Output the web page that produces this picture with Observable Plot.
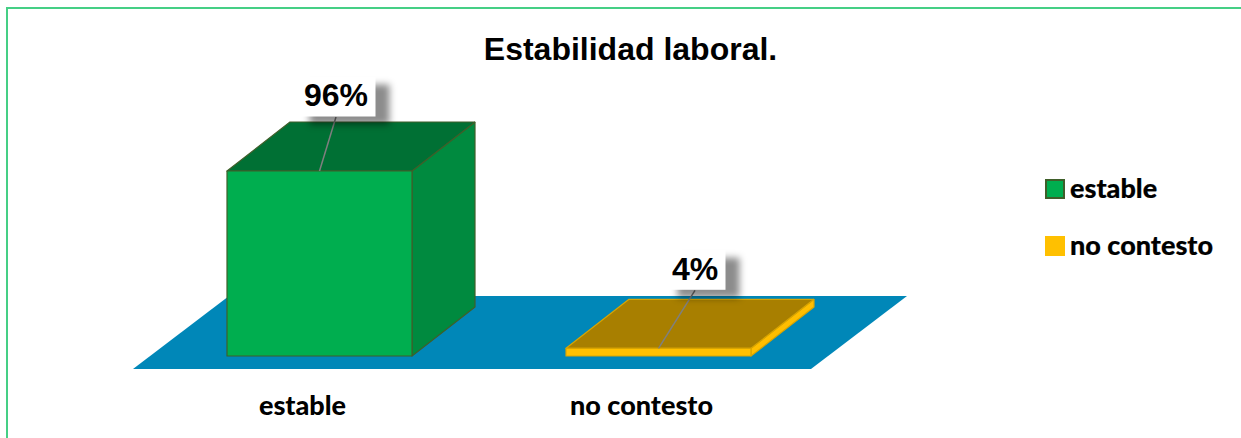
<!DOCTYPE html>
<html><head><meta charset="utf-8">
<script src="https://cdn.jsdelivr.net/npm/d3@7"></script>
<script src="https://cdn.jsdelivr.net/npm/@observablehq/plot@0.6"></script>
<style>
html,body{margin:0;padding:0;background:#fff}
#chart{position:relative;width:1241px;height:438px;overflow:hidden}
#border{position:absolute;left:6px;top:7px;width:1240px;height:440px;border:2px solid #45cf85;box-sizing:border-box}
#chart svg{position:absolute;left:0;top:0}
.leg{position:absolute;left:1045px;font:900 27px Lato,sans-serif;color:#000;display:flex;align-items:center;line-height:20px}
.leg span{position:relative;top:-1px;-webkit-text-stroke:0.2px #000}
.leg i{display:block;width:20px;height:20px;box-sizing:border-box;margin-right:5px}
</style></head><body>
<div id="chart"><div id="border"></div></div>
<script>
const categories = ["estable", "no contesto"];
const values = [96, 4];
const labels = ["96%", "4%"];
const fronts = ["#00AE4F", "#FFC000"];
const tops = ["#007034", "#A87F00"];
const sides = ["#008A3F", "#FFBE00"];
const strokes = ["#3F5F2A", "#D9A500"];
const legendStrokes = ["#3F5F2A", "#FFC000"];
const chartTitle = "Estabilidad laboral.";

// geometry
const pxX = 339, pxY = 1.927;        // pixels per category, per percent
const barW = 185 / pxX, depthX = 63 / pxX, depthY = 49 / pxY;
const u = (p) => p / pxX, v = (p) => p / pxY;
const mids = categories.map((_, i) => i + 0.5);
const base = 356;

function poly(key, pts, fill, stroke, sw = 1.2) {
  return pts.concat([pts[0]]).map(([x, y]) => ({key, x, y, fill, stroke, sw}));
}
const floor = poly("floor", [
  [u(-17), v(-13)], [u(661), v(-13)], [u(757), v(60)], [u(79), v(60)]
], "#0087B8", "none", 0);

const faces = [];
categories.forEach((c, i) => {
  const l = mids[i] - barW / 2, r = mids[i] + barW / 2, t = values[i];
  faces.push(...poly(c + "-side", [[r, 0], [r + depthX, depthY], [r + depthX, t + depthY], [r, t]], sides[i], strokes[i]));
  faces.push(...poly(c + "-top", [[l, t], [r, t], [r + depthX, t + depthY], [l + depthX, t + depthY]], tops[i], strokes[i]));
  faces.push(...poly(c + "-front", [[l, 0], [r, 0], [r, t], [l, t]], fronts[i], strokes[i]));
});

// data labels: box centre offsets from the top-front centre of each bar
const boxes = categories.map((c, i) => {
  const off = [[16.5, 74], [36.5, 78]][i], size = [[80, 40], [62, 40]][i];
  const x = mids[i] + u(off[0]), y = values[i] + v(off[1]);
  return {c, label: labels[i], x0: mids[i], y0: values[i], x, y,
    x1: x - u(size[0] / 2), x2: x + u(size[0] / 2),
    y1: y - v(size[1] / 2), y2: y + v(size[1] / 2),
    yl: y - v(size[1] / 2)};
});

const polyMark = (data) => Plot.line(data, {
  x: "x", y: "y", z: "key", fill: "fill", stroke: "stroke",
  strokeWidth: "sw", strokeLinejoin: "miter", curve: "linear"
});

const plot = Plot.plot({
  width: 1241, height: 438,
  marginLeft: 149.5, marginRight: 413.5, marginTop: base - 100 * pxY - 0.5, marginBottom: 438 - base + 0.5,
  x: {domain: [0, 2], axis: null},
  y: {domain: [0, 100], axis: null},
  style: {background: "transparent", overflow: "visible"},
  marks: [
    polyMark(floor),
    polyMark(faces),
    Plot.link(boxes, {x1: "x0", y1: "y0", x2: "x", y2: "yl", stroke: "#7f7f7f", strokeWidth: 1.5}),
    Plot.rect(boxes, {x1: "x1", x2: "x2", y1: "y1", y2: "y2", fill: "#000", fillOpacity: 0.45,
      dx: 14, dy: 8, imageFilter: "blur(3.5px)"}),
    Plot.rect(boxes, {x1: "x1", x2: "x2", y1: "y1", y2: "y2", fill: "#fff"}),
    Plot.text(boxes, {x: "x", y: "y", text: "label", dy: -1, fontSize: 32, fontWeight: 700,
      fontFamily: "Liberation Sans, Arial", fill: "#000"}),
    Plot.text(categories, {x: (d, i) => mids[i], y: () => 0, text: (d) => d, dx: -17, dy: 50,
      fontSize: 27, fontWeight: 900, fontFamily: "Lato, sans-serif", fill: "#000"}),
    Plot.text([chartTitle], {x: () => 1, y: () => 100, text: (d) => d, dx: 141.5, dy: -114,
      fontSize: 32, fontWeight: 700, fontFamily: "Liberation Sans, Arial", fill: "#000"})
  ]
});
const chart = document.getElementById("chart");
chart.appendChild(plot);

categories.forEach((c, i) => {
  const d = document.createElement("div");
  d.className = "leg";
  d.style.top = [179, 236][i] + "px";
  const sw = document.createElement("i");
  sw.style.background = fronts[i];
  sw.style.border = "2px solid " + legendStrokes[i];
  d.appendChild(sw);
  const t = document.createElement("span");
  t.textContent = c;
  d.appendChild(t);
  chart.appendChild(d);
});
</script>
</body></html>
